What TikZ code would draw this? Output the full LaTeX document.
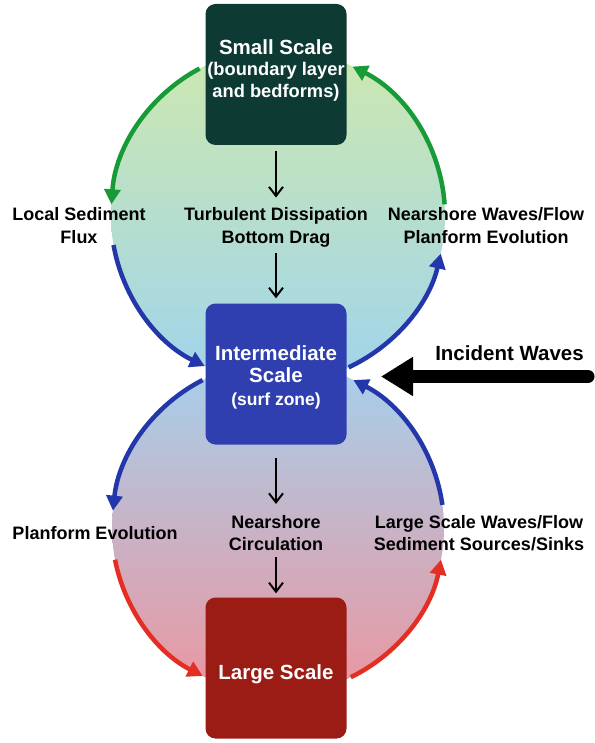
\documentclass[tikz,border=0pt]{standalone}
\usepackage{fontspec}
\setmainfont{Liberation Sans}
\usetikzlibrary{arrows.meta,calc}
\definecolor{smallc}{RGB}{14,58,52}
\definecolor{midc}{RGB}{47,63,175}
\definecolor{largec}{RGB}{155,28,20}
\definecolor{garc}{RGB}{22,155,55}
\definecolor{barc}{RGB}{35,55,170}
\definecolor{rarc}{RGB}{228,45,35}
\definecolor{ftop}{RGB}{205,232,175}
\definecolor{fmid}{RGB}{178,222,212}
\definecolor{fbot}{RGB}{160,212,236}
\definecolor{ltop}{RGB}{165,208,236}
\definecolor{lmid}{RGB}{205,192,218}
\definecolor{lbot}{RGB}{235,150,160}
\tikzset{
  scalebox/.style={rectangle, rounded corners=10pt, minimum width=141pt, minimum height=141pt, inner sep=0pt, draw=none},
  boxtext/.style={text=white, align=center, inner sep=0pt, font=\bfseries\fontsize{20.5}{21.5}\selectfont},
  lab/.style={align=center, inner sep=0pt, font=\bfseries\fontsize{18}{22.5}\selectfont},
  arcline/.style={line width=4.5pt, -{Triangle[length=15pt,width=16pt]}},
  karrow/.style={line width=2pt, -{Straight Barb[length=9pt,width=14pt]}},
}
\begin{document}
\begin{tikzpicture}[x=1pt,y=1pt]
\useasboundingbox (0,0) rectangle (594,-743);
\fill[white] (0,0) rectangle (594,-743);
% background circles
\coordinate (uc) at (278,-216);
\coordinate (lc) at (278,-528);
\shade[top color=ltop, middle color=lmid, bottom color=lbot] (lc) circle[radius=166];
\shade[top color=ftop, middle color=fmid, bottom color=fbot] (uc) circle[radius=167];
% boxes
\node[scalebox, fill=smallc] (small) at (276,-74.5) {};
\node[scalebox, fill=midc] (mid) at (276,-374) {};
\node[scalebox, fill=largec] (large) at (276,-668) {};
\node[boxtext] (smalltxt) at (276,-70) {Small Scale\\{\fontsize{18.3}{21}\selectfont (boundary layer}\\{\fontsize{18.3}{21}\selectfont and bedforms)}};
\node[boxtext, font=\bfseries\fontsize{20.5}{22.5}\selectfont] (midtxt) at (276,-377) {Intermediate\\Scale\\{\fontsize{17.5}{21}\selectfont (surf zone)}};
\node[boxtext] (largetxt) at (276,-674) {Large Scale};
% labels
\node[lab] (lsf) at (79,-225.5) {Local Sediment\\Flux};
\node[lab] (turb) at (276,-227.4) {Turbulent Dissipation\\Bottom Drag};
\node[lab] (nwf) at (486,-225.5) {Nearshore Waves/Flow\\Planform Evolution};
\node[lab] (pfe) at (95,-533.5) {Planform Evolution};
\node[lab] (nsc) at (276,-533) {Nearshore\\Circulation};
\node[lab] (lsw) at (479,-533) {Large Scale Waves/Flow\\Sediment Sources/Sinks};
\node[inner sep=0pt, font=\bfseries\fontsize{20.5}{24}\selectfont] (inc) at (509.5,-352.7) {Incident Waves};
% arcs upper circle
\draw[arcline, garc] ($(uc)+(118:167)$) arc[start angle=118, end angle=176, radius=167];
\draw[arcline, barc] ($(uc)+(190:167)$) arc[start angle=190, end angle=244, radius=167];
\draw[arcline, barc] ($(uc)+(-65:167)$) arc[start angle=-65, end angle=-13, radius=167];
\draw[arcline, garc] ($(uc)+(4:167)$) arc[start angle=4, end angle=63.5, radius=167];
% arcs lower circle
\draw[arcline, barc] ($(lc)+(117:166)$) arc[start angle=117, end angle=174, radius=166];
\draw[arcline, rarc] ($(lc)+(191:166)$) arc[start angle=191, end angle=243, radius=166];
\draw[arcline, rarc] ($(lc)+(-64:166)$) arc[start angle=-64, end angle=-11, radius=166];
\draw[arcline, barc] ($(lc)+(8:166)$) arc[start angle=8, end angle=63, radius=166];
% black vertical arrows
\draw[karrow] ([yshift=-6pt]small.south) -- ([yshift=10pt]turb.north);
\draw[karrow] ([yshift=-6pt]turb.south) -- ([yshift=5pt]mid.north);
\draw[karrow] ([yshift=-13pt]mid.south) -- ([yshift=11pt]nsc.north);
\draw[karrow] ([yshift=-6pt]nsc.south) -- ([yshift=4pt]large.north);
% incident waves arrow
\coordinate (iwstart) at (588,-376.5);
\coordinate (iwtip) at (381,-376.5);
\draw[line width=13pt, line cap=round, -{Triangle[length=32pt,width=37pt]}] (iwstart) -- (iwtip);
\end{tikzpicture}
\end{document}
